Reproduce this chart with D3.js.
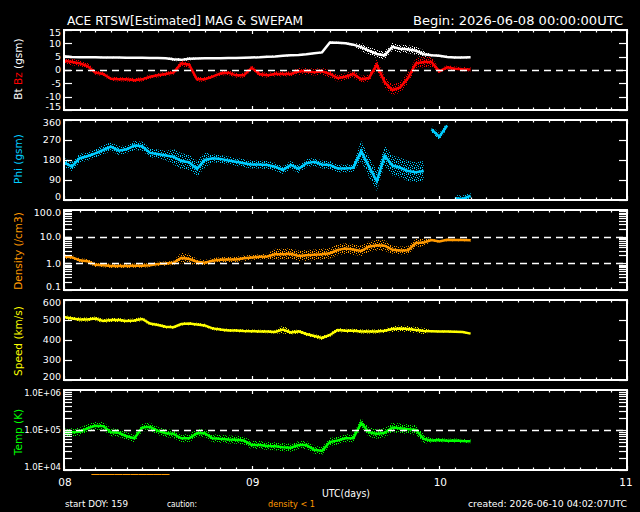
<!DOCTYPE html>
<html>
<head>
<meta charset="utf-8">
<script src="https://cdn.jsdelivr.net/npm/d3@7/dist/d3.min.js"></script>
<style>
  html, body { margin: 0; background: #000; }
  svg { display: block; font-family: "DejaVu Sans", sans-serif; }
</style>
</head>
<body>
<svg id="chart" width="640" height="512"></svg>
<script>
// hours since 2026-06-08 00:00 UTC, one sample per hour
const sampleHours = [0,1,2,3,4,5,6,7,8,9,10,11,12,13,14,15,16,17,18,19,20,21,22,23,24,25,26,
  27,28,29,30,31,32,33,34,35,36,37,38,39,40,41,42,43,44,45,46,47,48,49,50,51,52];

const btValues = [5.2,4.9,4.8,4.8,4.8,4.7,4.7,4.7,4.6,4.6, 4.6,4.5,4.5,4.4,4.0,3.8,4.2,4.3,4.4,4.4,
  4.4,4.5,4.5,4.6,4.7,4.8,5.0,5.1,5.3,5.5, 5.6,5.9,6.3,6.6,10.3,10.2,10.0,9.5,8.6,7.3,
  6.0,5.5,8.7,8.0,7.8,7.2,5.9,5.5,5.3,4.9, 4.7,4.7,4.8];
const btSpread = [0.3,0.3,0.3,0.3,0.3,0.3,0.3,0.3,0.3,0.3, 0.3,0.3,0.3,0.3,0.6,0.6,0.6,0.3,0.3,0.3,
  0.3,0.3,0.3,0.3,0.3,0.3,0.3,0.3,0.3,0.3, 0.3,0.3,0.3,0.3,0.4,0.4,0.4,0.4,1.5,1.5,
  1.5,1.5,1.5,1.5,1.5,1.5,1.5,0.4,0.4,0.4, 0.4,0.4,0.4];

const bzValues = [3.5,3.0,2.5,1.5,-1.0,-1.5,-3.3,-3.5,-3.5,-3.8, -3.5,-2.5,-2.0,-1.5,-1.0,2.5,2.0,-3.5,-3.5,-2.5,
  -1.3,-1.0,-2.0,-2.0,0.8,-1.5,-2.0,-1.5,-1.5,-1.5, -0.5,-0.5,-0.8,-0.5,-1.5,-3.0,-2.5,-1.5,-3.5,-3.0,
  2.0,-4.5,-7.5,-6.5,-3.0,2.5,3.0,3.0,-0.5,1.0, 0.5,0.3,0.2];
const bzSpread = [1.2,1.2,1.2,1.2,0.8,0.8,0.8,0.8,0.8,0.8, 0.8,0.8,0.8,0.8,0.8,1.2,1.2,0.9,0.9,0.9,
  0.9,0.9,0.9,0.9,0.9,0.9,0.9,0.9,0.9,0.9, 1.3,1.3,1.3,1.3,1.3,1.3,1.3,1.3,1.3,1.3,
  2.0,2.0,2.0,2.0,2.0,2.0,2.0,2.0,0.8,0.8, 0.8,0.8,0.8];

const phiValues = [170,150,188,197,210,225,240,222,228,245, 242,212,207,200,195,175,170,140,180,188,
  185,178,172,165,160,160,158,150,135,158, 140,165,172,160,158,142,142,145,220,150,
  85,200,155,145,130,125,130,318,285,335, 8,5,20];
const phiSpread = [20,20,20,20,20,20,20,20,20,20, 20,20,20,20,35,35,35,35,35,18,
  18,18,18,18,18,18,18,18,18,18, 18,18,18,18,18,18,18,18,45,45,
  45,45,45,45,45,45,45,15,15,15, 15,15,15];

const densityValues = [1.8,1.7,1.3,1.2,0.88,0.85,0.80,0.80,0.80,0.82, 0.82,0.85,0.95,0.98,1.05,1.6,1.45,1.15,1.05,1.25,
  1.35,1.4,1.4,1.55,1.65,1.75,1.8,2.2,2.2,2.3, 1.9,2.0,2.1,2.2,2.4,3.2,3.6,3.3,2.9,4.2,
  4.8,4.6,3.2,3.0,3.1,5.8,6.0,7.5,6.6,7.6, 7.5,7.5,7.4];
// spread in decades
const densitySpread = [0.08,0.08,0.08,0.08,0.08,0.08,0.08,0.08,0.08,0.08, 0.08,0.08,0.08,0.08,0.08,0.2,0.2,0.1,0.1,0.1,
  0.1,0.1,0.1,0.1,0.1,0.1,0.1,0.2,0.2,0.2, 0.2,0.2,0.2,0.2,0.2,0.2,0.2,0.2,0.2,0.2,
  0.2,0.2,0.15,0.15,0.15,0.15,0.15,0.05,0.05,0.05, 0.05,0.05,0.05];

const speedValues = [515,508,502,503,507,495,500,500,495,498, 505,482,475,466,464,480,482,478,473,458,
  452,448,447,445,444,443,442,440,452,438, 443,430,420,410,425,450,446,446,443,443,
  443,446,455,458,455,450,445,444,442,442, 441,440,432];
const speedSpread = [10,10,10,10,10,10,10,10,10,10, 10,8,8,8,8,8,8,8,8,8,
  8,8,8,8,8,8,8,8,20,10, 10,10,10,10,10,10,10,10,10,10,
  10,10,15,15,15,15,15,5,5,5, 5,5,5];

// kelvin / 1000
const tempValues = [85,88,90,110,128,125,88,85,70,62, 115,120,95,83,80,62,62,83,83,62,
  60,58,57,55,42,42,40,39,37,36, 42,42,32,30,50,55,62,62,150,88,
  80,85,115,110,105,100,60,55,56,54, 55,53,52];
const tempSpread = [0.1,0.1,0.1,0.1,0.1,0.1,0.1,0.1,0.1,0.1, 0.1,0.1,0.1,0.1,0.1,0.1,0.1,0.1,0.1,0.1,
  0.1,0.1,0.1,0.1,0.1,0.1,0.1,0.1,0.1,0.1, 0.1,0.1,0.1,0.1,0.1,0.1,0.1,0.1,0.12,0.12,
  0.12,0.12,0.12,0.12,0.12,0.12,0.12,0.05,0.05,0.05, 0.05,0.05,0.05];

const dayLabels = ["08", "09", "10", "11"];

const svg = d3.select("#chart");
const left = 64, right = 627, ph = 80;
const x = d3.scaleLinear().domain([0, 72]).range([left, right]);

function txt(t, px, py, o = {}) {
  const e = svg.append("text").attr("x", px).attr("y", py).text(t)
    .attr("fill", o.fill || "#fff")
    .attr("font-size", o.size || 9)
    .attr("text-anchor", o.anchor || "start");
  if (o.len) e.attr("textLength", o.len).attr("lengthAdjust", "spacingAndGlyphs");
  return e;
}

// speckle patterns to imitate the scattered one-minute points
const defs = svg.append("defs");
const speckleDots = [[0, 0], [4, 0], [2, 1], [5, 2], [1, 3], [3, 3], [0, 5], [4, 4], [2, 5]];
function speckle(id, color) {
  const p = defs.append("pattern").attr("id", id)
    .attr("width", 6).attr("height", 6).attr("patternUnits", "userSpaceOnUse");
  speckleDots.forEach(([a, b]) =>
    p.append("rect").attr("x", a).attr("y", b).attr("width", 1).attr("height", 1).attr("fill", color));
  return `url(#${id})`;
}

const logTicks = (lo, hi) => {
  const t = [];
  for (let d = lo; d < hi; d++) for (let k = 1; k < 10; k++) t.push(k * Math.pow(10, d));
  t.push(Math.pow(10, hi));
  return t;
};

const panels = [
  { top: 30, y: d3.scaleLinear().domain([-15, 15]), ticks: [-15, -10, -5, 0, 5, 10, 15],
    labels: [-15, -10, -5, 0, 5, 10, 15], fmt: d => String(d), dashed: [0], title: "bt", titleY: 69 },
  { top: 120, y: d3.scaleLinear().domain([0, 360]), ticks: [0, 90, 180, 270, 360],
    labels: [0, 90, 180, 270, 360], fmt: d => String(d), dashed: [], title: "Phi (gsm)", color: "#00ccff", titleY: 159 },
  { top: 210, y: d3.scaleLog().domain([0.1, 100]), ticks: logTicks(-1, 2),
    labels: [0.1, 1, 10, 100], fmt: d3.format(".1f"), dashed: [10, 1], title: "Density (/cm3)", color: "#ff9900", titleY: 251 },
  { top: 300, y: d3.scaleLinear().domain([200, 600]), ticks: [200, 300, 400, 500, 600],
    labels: [200, 300, 400, 500, 600], fmt: d => String(d), dashed: [], title: "Speed (km/s)", color: "#ffff00", titleY: 341 },
  { top: 390, y: d3.scaleLog().domain([1e4, 1e6]), ticks: logTicks(4, 6),
    labels: [1e4, 1e5, 1e6], fmt: d => "1.0E+0" + Math.round(Math.log10(d)), dashed: [1e5], title: "Temp (K)", color: "#00ff00", titleY: 432 }
];

panels.forEach((p, i) => {
  p.y.range([p.top + ph, p.top]);
  const g = svg.append("g");
  defs.append("clipPath").attr("id", "clip" + i)
    .append("rect").attr("x", left).attr("y", p.top).attr("width", right - left).attr("height", ph);
  p.g = g;
  p.data = g.append("g").attr("clip-path", `url(#clip${i})`);

  // dashed reference lines
  p.dashed.forEach(v => {
    g.append("line").attr("x1", left).attr("x2", right)
      .attr("y1", Math.round(p.y(v)) + 0.5).attr("y2", Math.round(p.y(v)) + 0.5)
      .attr("stroke", "#fff").attr("stroke-width", 1.4).attr("stroke-dasharray", "7,5");
  });
});

function drawSeries(p, vals, spread, color, id, opts = {}) {
  const isLog = opts.log;
  const pts = sampleHours.map((h, i) => ({
    h, v: vals[i],
    lo: isLog ? vals[i] / Math.pow(10, spread[i]) : vals[i] - spread[i],
    hi: isLog ? vals[i] * Math.pow(10, spread[i]) : vals[i] + spread[i]
  }));
  // break the trace where the angle wraps or jumps
  const runs = [];
  let cur = [];
  pts.forEach((d, i) => {
    if (i > 0 && Math.abs(d.v - pts[i - 1].v) > (opts.maxJump || Infinity)) { runs.push(cur); cur = []; }
    cur.push(d);
  });
  runs.push(cur);
  const fill = speckle(id, color);
  runs.forEach(r => {
    p.data.append("path").datum(r)
      .attr("fill", fill)
      .attr("d", d3.area().x(d => x(d.h)).y0(d => p.y(d.lo)).y1(d => p.y(d.hi)));
    p.data.append("path").datum(r)
      .attr("fill", "none").attr("stroke", color).attr("stroke-width", 2.5)
      .attr("d", d3.line().x(d => x(d.h)).y(d => p.y(d.v)));
  });
}

drawSeries(panels[0], btValues, btSpread, "#ffffff", "sp-bt");
drawSeries(panels[0], bzValues, bzSpread, "#ff0000", "sp-bz");
drawSeries(panels[1], phiValues, phiSpread, "#00ccff", "sp-phi", { maxJump: 150 });
drawSeries(panels[2], densityValues, densitySpread, "#ff9900", "sp-den", { log: true });
drawSeries(panels[3], speedValues, speedSpread, "#ffff00", "sp-spd");
drawSeries(panels[4], tempValues.map(v => v * 1000), tempSpread, "#00ff00", "sp-tmp", { log: true });

// frames, ticks and labels
const xTicks = d3.range(0, 73, 2);
panels.forEach(p => {
  const g = p.g, bot = p.top + ph;
  g.append("rect").attr("x", left).attr("y", p.top).attr("width", right - left).attr("height", ph)
    .attr("fill", "none").attr("stroke", "#fff").attr("stroke-width", 2);
  xTicks.forEach(h => {
    const len = h % 24 === 0 ? 4 : 2.5;
    const xx = Math.round(x(h)) + 0.5;
    g.append("line").attr("x1", xx).attr("x2", xx).attr("y1", bot).attr("y2", bot - len)
      .attr("stroke", "#fff").attr("stroke-width", 1.2);
    g.append("line").attr("x1", xx).attr("x2", xx).attr("y1", p.top).attr("y2", p.top + len)
      .attr("stroke", "#fff").attr("stroke-width", 1.2);
  });
  p.ticks.forEach(v => {
    const yy = Math.round(p.y(v)) + 0.5;
    g.append("line").attr("x1", left).attr("x2", left + 8).attr("y1", yy).attr("y2", yy)
      .attr("stroke", "#fff").attr("stroke-width", 1.2);
    g.append("line").attr("x1", right - 8).attr("x2", right).attr("y1", yy).attr("y2", yy)
      .attr("stroke", "#fff").attr("stroke-width", 1.2);
  });
  const dom = p.y.domain();
  p.labels.forEach(v => {
    let yy = p.y(v) + 3.4;
    if (v === dom[1]) yy += 3;
    if (v === dom[0]) yy -= 3;
    txt(p.fmt(v), 61, yy, { anchor: "end", size: p.fmt(v).length > 5 ? 8.5 : 9.5 });
  });
  const t = svg.append("text").attr("transform", `translate(22,${p.titleY}) rotate(-90)`)
    .attr("text-anchor", "middle").attr("font-size", 10.5);
  if (p.title === "bt") {
    t.append("tspan").attr("fill", "#fff").text("Bt ");
    t.append("tspan").attr("fill", "#ff0000").text("Bz");
    t.append("tspan").attr("fill", "#fff").text(" (gsm)");
  } else {
    t.attr("fill", p.color).text(p.title);
  }
});

// caution markers where density < 1
sampleHours.forEach((h, i) => {
  if (densityValues[i] < 1) {
    svg.append("line").attr("x1", x(h - 0.5)).attr("x2", x(h + 0.5))
      .attr("y1", 474.5).attr("y2", 474.5).attr("stroke", "#ff9900").attr("stroke-width", 1);
  }
});

// header and footer text
txt("ACE RTSW[Estimated] MAG & SWEPAM", 67, 25, { size: 13, len: 236 });
txt("Begin: 2026-06-08 00:00:00UTC", 413, 25, { size: 13, len: 210 });
dayLabels.forEach((d, i) => txt(d, Math.min(x(i * 24) + 1, 626), 486, { size: 10.5, anchor: "middle" }));
txt("UTC(days)", 346, 497, { size: 10.5, anchor: "middle", len: 48 });
txt("start DOY: 159", 65, 507, { size: 8.5, len: 63 });
txt("caution:", 167, 507, { size: 8.5, len: 30 });
txt("density < 1", 268, 507, { size: 8.5, len: 47, fill: "#ff9900" });
txt("created: 2026-06-10 04:02:07UTC", 468, 507, { size: 8.5, len: 159 });
</script>
</body>
</html>
